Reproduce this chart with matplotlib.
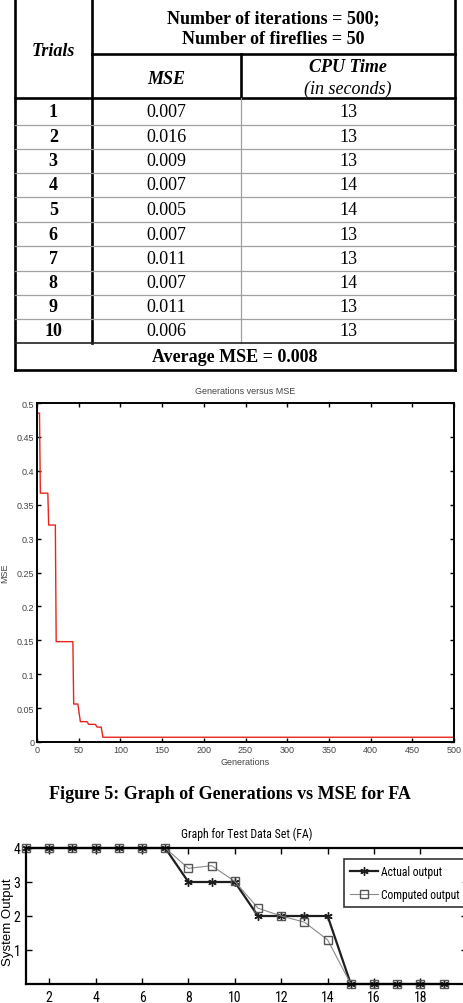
import matplotlib
matplotlib.use('Agg')
import matplotlib.pyplot as plt
from matplotlib import font_manager as fm
from matplotlib.ticker import FormatStrFormatter

# ---- table data ----
trials = ['1', '2', '3', '4', '5', '6', '7', '8', '9', '10']
mse_vals = ['0.007', '0.016', '0.009', '0.007', '0.005', '0.007', '0.011', '0.007', '0.011', '0.006']
cpu_time = [13, 13, 13, 14, 14, 13, 13, 14, 13, 13]
avg_mse = '0.008'
n_iter = 500
n_fireflies = 50

# ---- generations vs MSE (step points) ----
gen = [0, 3, 4, 13, 14, 22, 23, 43, 44, 49, 52, 60, 62, 70, 72, 77, 79, 500]
best_mse = [0.485, 0.485, 0.367, 0.367, 0.320, 0.320, 0.148, 0.148, 0.056, 0.056,
            0.030, 0.030, 0.026, 0.026, 0.022, 0.022, 0.007, 0.007]

# ---- test data set ----
samples = list(range(1, 20))
actual = [4, 4, 4, 4, 4, 4, 4, 3, 3, 3, 2, 2, 2, 2, 0, 0, 0, 0, 0]
computed = [4, 4, 4, 4, 4, 4, 4, 3.4, 3.48, 3.02, 2.23, 2.0, 1.82, 1.3, 0, 0, 0, 0, 0]

W, H = 463, 1004
serif = 'Liberation Serif'
sans = 'Liberation Sans'

# narrow sans for the second chart, if there is one
installed = {f.name for f in fm.fontManager.ttflist}
narrow = sans
shrink = 0.8
for name in ['Liberation Sans Narrow', 'Roboto Condensed', 'Open Sans Condensed']:
    if name in installed:
        narrow = name
        shrink = 1.0
        break

fig = plt.figure(figsize=(W / 100, H / 100), dpi=100)
bg = fig.add_axes([0, 0, 1, 1])
bg.set_xlim(0, W)
bg.set_ylim(H, 0)
bg.axis('off')

# table grid (pixel coordinates)
x_l, x_t, x_c, x_r = 14.5, 92, 241, 455
rows = [99, 126, 150, 174, 198, 223, 247, 272, 296, 320, 344]
y_bot = 371
thick = 1.9
thin_gray = dict(color='#a0a0a0', lw=0.9)
bg.plot([x_l, x_l], [0, y_bot], color='k', lw=thick)
bg.plot([x_r, x_r], [0, y_bot], color='k', lw=thick)
bg.plot([x_l, x_r], [y_bot, y_bot], color='k', lw=thick)
bg.plot([x_t, x_t], [0, rows[-1]], color='k', lw=thick)
bg.plot([x_t, x_r], [55, 55], color='k', lw=thick)
bg.plot([x_l, x_r], [99, 99], color='k', lw=thick)
bg.plot([x_c, x_c], [55, 99], color='k', lw=thick)
bg.plot([x_c, x_c], [99, rows[-1]], **thin_gray)
for y in rows[1:-1]:
    bg.plot([x_l, x_r], [y, y], **thin_gray)
bg.plot([x_l, x_r], [rows[-1], rows[-1]], color='#222222', lw=1.2)

fs = 13
bg.text((x_l + x_t) / 2, 51, 'Trials', family=serif, weight='bold', style='italic',
        fontsize=fs, ha='center', va='center')
bg.text((x_t + x_r) / 2, 19, 'Number of iterations = %d;' % n_iter, family=serif,
        weight='bold', fontsize=fs, ha='center', va='center')
bg.text((x_t + x_r) / 2, 40, 'Number of fireflies = %d' % n_fireflies, family=serif,
        weight='bold', fontsize=fs, ha='center', va='center')
bg.text((x_t + x_c) / 2, 79, 'MSE', family=serif, weight='bold', style='italic',
        fontsize=fs, ha='center', va='center')
bg.text((x_c + x_r) / 2, 68, 'CPU Time', family=serif, weight='bold', style='italic',
        fontsize=fs, ha='center', va='center')
bg.text((x_c + x_r) / 2, 89, '(in seconds)', family=serif, style='italic',
        fontsize=fs, ha='center', va='center')
for i in range(len(trials)):
    yc = (rows[i] + rows[i + 1]) / 2
    bg.text((x_l + x_t) / 2, yc, trials[i], family=serif, weight='bold',
            fontsize=fs, ha='center', va='center')
    bg.text((x_t + x_c) / 2, yc, mse_vals[i], family=serif,
            fontsize=fs, ha='center', va='center')
    bg.text((x_c + x_r) / 2, yc, str(cpu_time[i]), family=serif,
            fontsize=fs, ha='center', va='center')
bg.text((x_l + x_r) / 2, (rows[-1] + y_bot) / 2, 'Average MSE = ' + avg_mse,
        family=serif, weight='bold', fontsize=fs, ha='center', va='center')

# caption
bg.text(230, 795, 'Figure 5: Graph of Generations vs MSE for FA', family=serif,
        weight='bold', fontsize=13, ha='center', va='center')

# ---- chart 1: generations vs MSE ----
ax1 = fig.add_axes([37 / W, 1 - 743 / H, (454 - 37) / W, (743 - 404) / H])
ax1.plot(gen, best_mse, color='#e8241c', lw=1.0)
ax1.set_xlim(0, 500)
ax1.set_ylim(0, 0.5)
ax1.set_xticks(range(0, 501, 50))
ax1.set_yticks([i * 0.05 for i in range(11)])
ax1.yaxis.set_major_formatter(FormatStrFormatter('%g'))
ax1.tick_params(direction='in', top=True, right=True, length=3, width=1,
                labelsize=6.5, labelcolor='#444444', pad=2)
for lab in ax1.get_xticklabels() + ax1.get_yticklabels():
    lab.set_family(sans)
for s in ax1.spines.values():
    s.set_linewidth(1.4)
ax1.set_title('Generations versus MSE', family=sans, fontsize=6.5, color='#444444', pad=7)
ax1.set_xlabel('Generations', family=sans, fontsize=6.5, color='#444444', labelpad=2)
ax1.set_ylabel('MSE', family=sans, fontsize=6.5, color='#444444')
ax1.yaxis.set_label_coords(-0.066, 0.5)

# ---- chart 2: test data set ----
ax2 = fig.add_axes([26 / W, 1 - 985 / H, 19 * 23.2 / W, (985 - 849) / H])
ax2.plot(samples, actual, color='#1e1e1e', lw=1.6, marker=(6, 2, 0), ms=6,
         mew=1.0, label='Actual output', clip_on=False)
ax2.plot(samples, computed, color='#8a8a8a', lw=0.8, marker='s', ms=6,
         mfc='none', mec='#555555', mew=1.0, label='Computed output', clip_on=False)
ax2.set_xlim(1, 20)
ax2.set_ylim(0, 4)
ax2.set_xticks(range(2, 19, 2))
ax2.set_yticks([1, 2, 3, 4])
ax2.tick_params(direction='in', top=True, right=True, length=4, width=1,
                labelsize=10 * shrink, pad=4)
for lab in ax2.get_xticklabels() + ax2.get_yticklabels():
    lab.set_family(narrow)
for s in ax2.spines.values():
    s.set_linewidth(1.6)
ax2.set_title('Graph for Test Data Set (FA)', family=narrow, fontsize=8.5 * shrink, pad=8)
ax2.set_ylabel('System Output', family=sans, fontsize=9.5)
ax2.yaxis.set_label_coords(-0.028, 0.463)
leg = ax2.legend(loc='upper left', bbox_to_anchor=(0.721, 0.919), borderaxespad=0,
                 fancybox=False, edgecolor='k', prop={'family': narrow, 'size': 8.3 * shrink},
                 handlelength=2.4, borderpad=0.55, labelspacing=0.8, handletextpad=0.3)
leg.get_frame().set_linewidth(1.2)

fig.savefig('out.png', dpi=100)
